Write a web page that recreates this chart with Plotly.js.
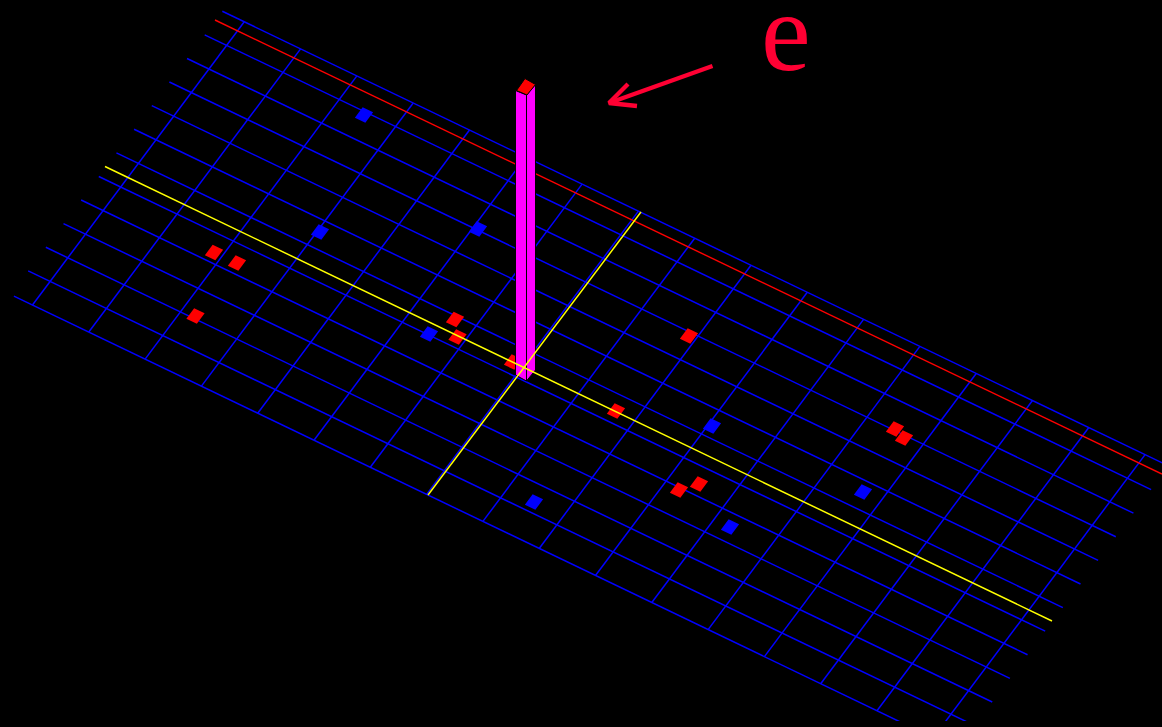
<!DOCTYPE html>
<html><head><meta charset="utf-8">
<script src="https://cdn.plot.ly/plotly-3.0.1.min.js"></script>
<style>html,body{margin:0;padding:0;background:#000;overflow:hidden}</style>
</head><body><div id="chart" style="width:1162px;height:727px"></div>
<script>
// Ground grid, in grid units
const gridOrigin = [32.5, 305];
const gridStepI = [56.3, 27.05];
const gridStepJ = [17.65, -23.6];
const crossLineIndex = [0,1,2,3,4,5,6,7,8,9,10,11,12,13,14,15,16];
const longLineIndex = [0,1,2,3,4,5,6,7,8,9,10,11,12];
const longLineStart = [-0.33,-0.39,-0.39,-0.39,-0.39,-0.39,-0.39,-0.39,-0.39,-0.39,-0.39,-0.39,-0.39];
const longLineEnd = 16.42;

// Reference lines, in picture-plane values
const redLineX = [215, 1162];
const redLineY = [20, 474];
const yellowLongX = [105, 1052];
const yellowLongY = [166.5, 621];
const yellowCrossX = [428, 641];
const yellowCrossY = [495, 212];

// Points on the plane
const redX = [214,237,195.5,455,457.5,513,616,689,679,699,895,904];
const redY = [252.5,263,316,319.5,337,362,411,336,490,484,429,438];
const blueX = [364,320,478,429,534,712,730,863];
const blueY = [115,232,229,334,502,426,527,492];
const markerHalfI = 0.093;
const markerHalfJ = 0.22;

// Column
const columnLeftX = [515.5,526.5,526.5,515.5,515.5];
const columnLeftY = [90.5,95,381,375,90.5];
const columnRightX = [526.5,535.5,535.5,526.5,526.5];
const columnRightY = [95,84.5,370,381,95];
const columnTopX = [516.5,525,535.5,527,516.5];
const columnTopY = [90.5,78.5,84.5,95,90.5];

// Label and arrow
const labelText = 'e';
const arrowX = [712.5,609,null,628,609,637];
const arrowY = [66,103,null,84,103,106];

function proj(i,j){return [gridOrigin[0]+i*gridStepI[0]+j*gridStepJ[0], gridOrigin[1]+i*gridStepI[1]+j*gridStepJ[1]];}
function gridLines(){
  const x=[],y=[];
  longLineIndex.forEach((j,k)=>{const a=proj(longLineStart[k],j),b=proj(longLineEnd,j);x.push(a[0],b[0],null);y.push(a[1],b[1],null);});
  crossLineIndex.forEach(i=>{const a=proj(i,0),b=proj(i,12);x.push(a[0],b[0],null);y.push(a[1],b[1],null);});
  return {x,y};
}
function markers(cx,cy){
  const x=[],y=[];
  const ax=markerHalfI*gridStepI[0],ay=markerHalfI*gridStepI[1],bx=markerHalfJ*gridStepJ[0],by=markerHalfJ*gridStepJ[1];
  cx.forEach((c,k)=>{const d=cy[k];
    x.push(c-ax-bx,c+ax-bx,c+ax+bx,c-ax+bx,c-ax-bx,null);
    y.push(d-ay-by,d+ay-by,d+ay+by,d-ay+by,d-ay-by,null);});
  return {x,y};
}
function line(x,y,color,width){return {type:'scatter',mode:'lines',x,y,line:{color,width},hoverinfo:'skip',showlegend:false,connectgaps:false};}
function poly(x,y,color,lineColor,lw){return {type:'scatter',mode:'lines',x,y,fill:'toself',fillcolor:color,line:{color:lineColor,width:lw},hoverinfo:'skip',showlegend:false};}

const g=gridLines(), mr=markers(redX,redY), mb=markers(blueX,blueY);
const data=[
  line(g.x,g.y,'#0000ff',1.5),
  line(redLineX,redLineY,'#ff0000',1.4),
  poly(mr.x,mr.y,'#ff0000','#ff0000',0),
  poly(mb.x,mb.y,'#0000ff','#0000ff',0),
  poly(columnLeftX,columnLeftY,'#ff00ff','#000000',1),
  poly(columnRightX,columnRightY,'#ff00ff','#000000',1),
  poly(columnTopX,columnTopY,'#ff0000','#000000',1),
  line(yellowLongX,yellowLongY,'#ffff00',1.5),
  line(yellowCrossX,yellowCrossY,'#ffff00',1.5),
  line(arrowX,arrowY,'#ff0033',4.3)
];
const layout={
  width:1162,height:727,
  margin:{l:0,r:0,t:0,b:6,pad:0},
  paper_bgcolor:'#000',plot_bgcolor:'#000',
  xaxis:{range:[0,1162],visible:false,fixedrange:true},
  yaxis:{range:[721,0],visible:false,fixedrange:true},
  showlegend:false,hovermode:false,
  annotations:[{text:labelText,x:786,y:72,xref:'x',yref:'y',xanchor:'center',yanchor:'bottom',yshift:-24,showarrow:false,
    font:{family:'"Liberation Serif", serif',size:112,color:'#ff0033'}}]
};
Plotly.newPlot('chart',data,layout,{displayModeBar:false,staticPlot:true});
</script></body></html>
